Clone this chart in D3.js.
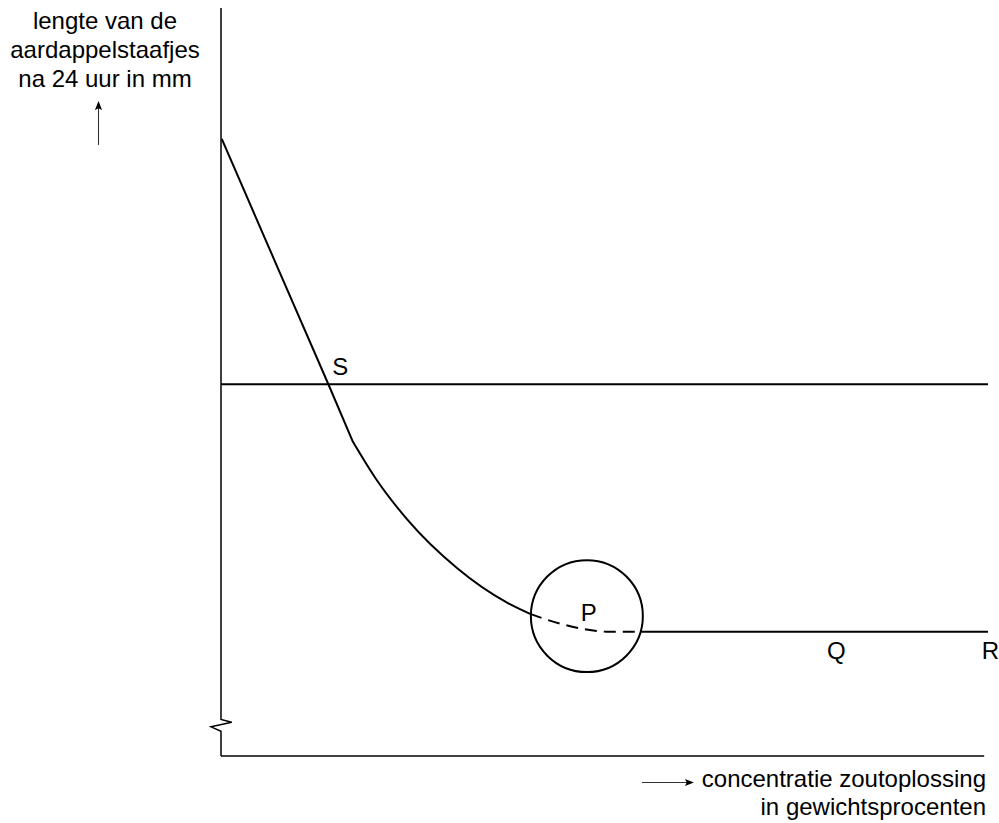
<!DOCTYPE html>
<html>
<head>
<meta charset="utf-8">
<script src="https://cdn.jsdelivr.net/npm/d3@7"></script>
<style>
  html, body { margin: 0; padding: 0; background: #fff; }
  svg { display: block; }
  text { font-family: "Liberation Sans", Arial, Helvetica, sans-serif; fill: #000; }
</style>
</head>
<body>
<svg id="chart" width="999" height="823"></svg>
<script>
// ---- data (arbitrary units: x = concentration 0..100, y = length 0..100) ----
const yLabelLines = ["lengte van de", "aardappelstaafjes", "na 24 uur in mm"];
const xLabelLines = ["concentratie zoutoplossing", "in gewichtsprocenten"];

// straight steep part of the curve
const steepX = [0.1, 7.0, 14.0, 17.2];
const steepY = [82.5, 66.2, 49.7, 42.0];
// bending solid part of the curve
const bendX = [17.2, 20.1, 24.3, 30.8, 37.3, 40.3];
const bendY = [42.0, 37.2, 31.6, 25.1, 20.5, 19.0];
// dashed part inside the circle
const dashX = [40.3, 43.5, 47.2, 50.7, 54.8];
const dashY = [19.0, 17.9, 17.0, 16.6, 16.6];
// flat solid part
const flatX = [54.8, 100];
const flatY = [16.6, 16.6];
// reference line (length at start)
const refX = [0, 100];
const refY = [49.7, 49.7];
// circle around P
const circleCenter = [47.7, 18.7];
const circleRadius = 7.3; // in x units
// point labels
const pointNames = ["S", "P", "Q", "R"];
const pointLabelX = [14.5, 46.9, 79.0, 99.2];
const pointLabelY = [50.9, 18.1, 13.0, 13.0];

// ---- scales ----
const x = d3.scaleLinear().domain([0, 100]).range([221, 988]);
const y = d3.scaleLinear().domain([0, 100]).range([756, 8]);

const svg = d3.select("#chart");
const zip = (a, b) => a.map((v, i) => [v, b[i]]);
const mk = c => d3.line().x(d => x(d[0])).y(d => y(d[1])).curve(c);

// axes
const axisG = svg.append("g").attr("fill", "none").attr("stroke", "#000").attr("stroke-width", 1.5);
const yAxisPts = [[0, 100], [0, 4.9], [1.4, 4.5], [-1.3, 3.9], [0, 3.3], [0, 0]];
axisG.append("path").attr("d", mk(d3.curveLinear)(yAxisPts));
axisG.append("path").attr("d", mk(d3.curveLinear)([[0, 0], [99.5, 0]]));

// reference horizontal line
svg.append("path").attr("d", mk(d3.curveLinear)(zip(refX, refY)))
  .attr("fill", "none").attr("stroke", "#000").attr("stroke-width", 2);

// curve: steep straight part + bend
const curvePath = mk(d3.curveLinear)(zip(steepX, steepY)) +
  mk(d3.curveMonotoneX)(zip(bendX, bendY)).replace(/^M/, "L");
svg.append("path").attr("d", curvePath)
  .attr("fill", "none").attr("stroke", "#000").attr("stroke-width", 2).attr("stroke-linejoin", "round");
svg.append("path").attr("d", mk(d3.curveMonotoneX)(zip(dashX, dashY)))
  .attr("fill", "none").attr("stroke", "#000").attr("stroke-width", 2)
  .attr("stroke-dasharray", "12,7");
svg.append("path").attr("d", mk(d3.curveLinear)(zip(flatX, flatY)))
  .attr("fill", "none").attr("stroke", "#000").attr("stroke-width", 2);

// circle
svg.append("circle")
  .attr("cx", x(circleCenter[0])).attr("cy", y(circleCenter[1]))
  .attr("r", x(circleRadius) - x(0))
  .attr("fill", "none").attr("stroke", "#000").attr("stroke-width", 2);

// point labels
svg.selectAll("text.pt").data(pointNames).enter().append("text")
  .attr("class", "pt")
  .attr("x", (d, i) => x(pointLabelX[i]))
  .attr("y", (d, i) => y(pointLabelY[i]))
  .attr("font-size", 24)
  .text(d => d);

// y label
svg.append("text").attr("text-anchor", "middle").attr("font-size", 24)
  .selectAll("tspan").data(yLabelLines).enter().append("tspan")
  .attr("x", 105).attr("y", (d, i) => 29 + i * 29).text(d => d);

// x label
svg.append("text").attr("text-anchor", "end").attr("font-size", 24)
  .selectAll("tspan").data(xLabelLines).enter().append("tspan")
  .attr("x", 986).attr("y", (d, i) => 787 + i * 28).text(d => d);

// arrows
const defs = svg.append("defs");
defs.append("marker").attr("id", "ah").attr("viewBox", "0 0 10 10")
  .attr("refX", 9).attr("refY", 5).attr("markerWidth", 9).attr("markerHeight", 9)
  .attr("markerUnits", "userSpaceOnUse").attr("orient", "auto")
  .append("path").attr("d", "M0,1 L10,5 L0,9 L2,5 Z").attr("fill", "#000");

svg.append("line").attr("x1", 98.5).attr("y1", 145).attr("x2", 98.5).attr("y2", 102)
  .attr("stroke", "#333").attr("stroke-width", 1.1).attr("marker-end", "url(#ah)");
svg.append("line").attr("x1", 642).attr("y1", 782.5).attr("x2", 693).attr("y2", 782.5)
  .attr("stroke", "#333").attr("stroke-width", 1.1).attr("marker-end", "url(#ah)");
</script>
</body>
</html>
